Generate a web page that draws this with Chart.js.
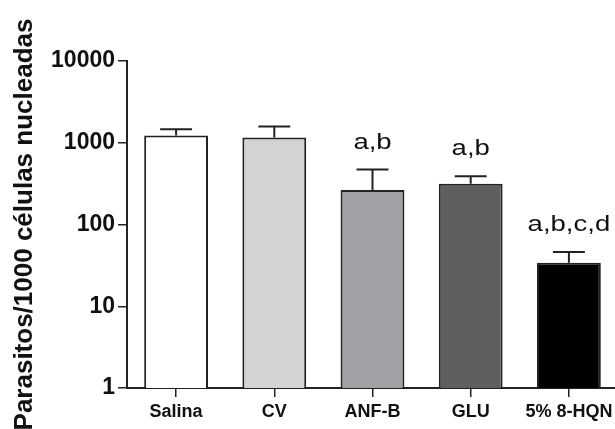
<!DOCTYPE html>
<html>
<head>
<meta charset="utf-8">
<script src="https://cdn.jsdelivr.net/npm/chart.js@4"></script>
<style>
html, body { margin: 0; padding: 0; overflow: hidden; background: #fff; }
#wrap { width: 618px; height: 429px; }
</style>
</head>
<body>
<div id="wrap"><canvas id="c" width="618" height="429"></canvas></div>
<script>
const groups = ['Salina', 'CV', 'ANF-B', 'GLU', '5% 8-HQN']
const means = [1225, 1160, 265, 316, 34]
const errTop = [1460, 1580, 470, 390, 46]
const sigLabels = ['', '', 'a,b', 'a,b', 'a,b,c,d']
const barColors = ['#ffffff', '#d3d3d3', '#a2a1a6', '#5f5f5f', '#000000']
const yTicks = [1, 10, 100, 1000, 10000]

// upper whiskers + significance letters
const errPlugin = {
    id: 'errbars',
    afterDatasetsDraw(chart) {
        const ctx = chart.ctx
        const y = chart.scales.y
        const meta = chart.getDatasetMeta(0)
        ctx.save()
        meta.data.forEach((bar, i) => {
            const x = bar.x
            const top = y.getPixelForValue(means[i])
            const e = y.getPixelForValue(errTop[i])
            const hw = bar.width / 4
            ctx.strokeStyle = '#222'
            ctx.lineWidth = 2
            ctx.beginPath()
            ctx.moveTo(x, top)
            ctx.lineTo(x, e)
            ctx.moveTo(x - hw, e)
            ctx.lineTo(x + hw, e)
            ctx.stroke()
            if (sigLabels[i]) {
                ctx.save()
                ctx.translate(x, e - 21)
                ctx.scale(1.25, 1)
                ctx.font = '22px "Liberation Sans", Arial, sans-serif'
                ctx.textAlign = 'center'
                ctx.textBaseline = 'alphabetic'
                ctx.fillStyle = '#111'
                ctx.fillText(sigLabels[i], 0, 0)
                ctx.restore()
            }
        })
        ctx.restore()
    }
}

new Chart(document.getElementById('c'), {
    type: 'bar',
    data: {
        labels: groups,
        datasets: [{
            data: means,
            backgroundColor: barColors,
            borderColor: '#222',
            borderWidth: 2,
            barPercentage: 0.65,
            categoryPercentage: 1
        }]
    },
    options: {
        responsive: false,
        animation: false,
        devicePixelRatio: 1,
        layout: { padding: { top: 61, right: 0, bottom: 0, left: 0 } },
        plugins: { legend: { display: false }, tooltip: { enabled: false } },
        scales: {
            x: {
                afterFit: s => { s.height = 41 },
                grid: { offset: false, drawOnChartArea: false, tickLength: 9, color: '#222', lineWidth: 1.5 },
                border: { display: true, color: '#222', width: 2 },
                ticks: { color: '#111', padding: 4, font: { family: '"Liberation Sans", Arial, sans-serif', size: 18, weight: 'bold' } }
            },
            y: {
                type: 'logarithmic',
                min: 1,
                max: 10000,
                afterFit: s => { s.width = 127 },
                afterBuildTicks: s => { s.ticks = yTicks.map(v => ({ value: v })) },
                grid: { drawOnChartArea: false, tickLength: 9, color: '#222', lineWidth: 1.5 },
                border: { display: true, color: '#222', width: 2 },
                ticks: {
                    color: '#111',
                    padding: 3,
                    font: { family: '"Liberation Sans", Arial, sans-serif', size: 23, weight: 'bold' },
                    callback: v => String(v)
                },
                title: {
                    display: true,
                    text: 'Parasitos/1000 células nucleadas',
                    color: '#111',
                    padding: { top: 9, bottom: 0 },
                    font: { family: '"Liberation Sans", Arial, sans-serif', size: 26, weight: 'bold' }
                }
            }
        }
    },
    plugins: [errPlugin]
})
</script>
</body>
</html>
